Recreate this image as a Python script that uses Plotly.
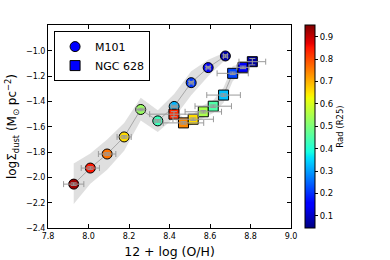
import plotly.graph_objects as go

# ---------------- data ----------------
m101_oh = [7.927, 8.009, 8.092, 8.176, 8.258, 8.342, 8.423, 8.507, 8.591, 8.676]
m101_sd = [-2.053, -1.926, -1.815, -1.680, -1.463, -1.553, -1.439, -1.251, -1.132, -1.040]
m101_rad = [0.93, 0.85, 0.76, 0.66, 0.53, 0.43, 0.32, 0.21, 0.16, 0.08]
m101_xerr = [0.05, 0.045, 0.043, 0.035, 0.02, 0.015, 0.015, 0.01, 0.01, 0.01]
m101_yerr = [0.01, 0.01, 0.01, 0.01, 0.01, 0.01, 0.01, 0.01, 0.01, 0.01]
m101_band_hi = [-1.89, -1.81, -1.70, -1.57, -1.37, -1.47, -1.34, -1.16, -1.07, -1.01]
m101_band_lo = [-2.21, -2.05, -1.94, -1.79, -1.55, -1.64, -1.53, -1.35, -1.20, -1.07]

ngc_oh = [8.422, 8.469, 8.517, 8.567, 8.616, 8.667, 8.712, 8.763, 8.809]
ngc_sd = [-1.500, -1.569, -1.540, -1.481, -1.437, -1.349, -1.177, -1.130, -1.085]
ngc_rad = [0.83, 0.74, 0.66, 0.55, 0.45, 0.33, 0.22, 0.14, 0.07]
ngc_xerr = [0.12, 0.10, 0.10, 0.09, 0.09, 0.083, 0.077, 0.03, 0.066]
ngc_yerr = [0.02, 0.01, 0.01, 0.01, 0.01, 0.01, 0.01, 0.01, 0.025]
ngc_band_hi = [-1.46, -1.53, -1.50, -1.43, -1.39, -1.29, -1.12, -1.10, -1.06]
ngc_band_lo = [-1.54, -1.61, -1.58, -1.53, -1.49, -1.41, -1.24, -1.16, -1.11]

x_ticks = [7.8, 8.0, 8.2, 8.4, 8.6, 8.8, 9.0]
y_ticks = [-2.4, -2.2, -2.0, -1.8, -1.6, -1.4, -1.2, -1.0]
cb_ticks = [0.1, 0.2, 0.3, 0.4, 0.5, 0.6, 0.7, 0.8, 0.9]
series_names = ["M101", "NGC 628"]

# ---------------- matplotlib-like jet colorscale ----------------
_seg = {
    "r": [(0, 0), (0.35, 0), (0.66, 1), (0.89, 1), (1, 0.5)],
    "g": [(0, 0), (0.125, 0), (0.375, 1), (0.64, 1), (0.91, 0), (1, 0)],
    "b": [(0, 0.5), (0.11, 1), (0.34, 1), (0.65, 0), (1, 0)],
}


def _interp(pts, t):
    for (x0, y0), (x1, y1) in zip(pts[:-1], pts[1:]):
        if x0 <= t <= x1:
            return y0 + (y1 - y0) * (t - x0) / (x1 - x0)
    return pts[-1][1]


_stops = sorted({p[0] for v in _seg.values() for p in v})
jet = []
for s in _stops:
    r, g, b = (int(round(255 * _interp(_seg[c], s))) for c in "rgb")
    jet.append([s, f"rgb({r},{g},{b})"])

FONT = "DejaVu Sans"
band_fill = "rgba(185,185,185,0.45)"
line_col = "#a8a8a8"
err_col = "#9a9a9a"

fig = go.Figure()

# bands
for oh, hi, lo in [(m101_oh, m101_band_hi, m101_band_lo), (ngc_oh, ngc_band_hi, ngc_band_lo)]:
    fig.add_trace(go.Scatter(
        x=oh + oh[::-1], y=hi + lo[::-1], fill="toself", fillcolor=band_fill,
        line=dict(width=0), mode="lines", showlegend=False, hoverinfo="skip"))

# connecting lines
for oh, sd in [(m101_oh, m101_sd), (ngc_oh, ngc_sd)]:
    fig.add_trace(go.Scatter(x=oh, y=sd, mode="lines", line=dict(color=line_col, width=1),
                             showlegend=False, hoverinfo="skip"))

# markers
fig.add_trace(go.Scatter(
    x=m101_oh, y=m101_sd, mode="markers", showlegend=False, name=series_names[0],
    marker=dict(symbol="circle", size=10, color=m101_rad, coloraxis="coloraxis",
                line=dict(color="black", width=1))))
fig.add_trace(go.Scatter(
    x=ngc_oh, y=ngc_sd, mode="markers", showlegend=False, name=series_names[1],
    marker=dict(symbol="square", size=10, color=ngc_rad, coloraxis="coloraxis",
                line=dict(color="black", width=1))))

# error bars (drawn over markers)
for oh, sd, xe, ye in [(m101_oh, m101_sd, m101_xerr, m101_yerr), (ngc_oh, ngc_sd, ngc_xerr, ngc_yerr)]:
    fig.add_trace(go.Scatter(
        x=oh, y=sd, mode="markers", marker=dict(size=1, color="rgba(0,0,0,0)"),
        error_x=dict(type="data", array=xe, color=err_col, thickness=1, width=3),
        error_y=dict(type="data", array=ye, color=err_col, thickness=1, width=3),
        showlegend=False, hoverinfo="skip"))

# legend entries
fig.add_trace(go.Scatter(x=[None], y=[None], mode="markers", name=series_names[0],
                         marker=dict(symbol="circle", size=10, color="#0000ff",
                                     line=dict(color="black", width=1))))
fig.add_trace(go.Scatter(x=[None], y=[None], mode="markers", name=series_names[1],
                         marker=dict(symbol="square", size=10, color="#0000ff",
                                     line=dict(color="black", width=1))))

axis_common = dict(showline=True, linecolor="black", linewidth=1, mirror="ticks",
                   ticks="inside", ticklen=4, tickcolor="black", showgrid=False,
                   zeroline=False, automargin=False,
                   tickfont=dict(size=8, color="black", family=FONT))

fig.update_layout(
    width=390, height=260,
    margin=dict(l=48, r=99, t=25, b=32, autoexpand=False),
    paper_bgcolor="white", plot_bgcolor="white",
    font=dict(family=FONT, color="black"),
    xaxis=dict(range=[7.8, 9.0], tickvals=x_ticks, ticktext=[f"{v:.1f}" for v in x_ticks],
               title=dict(text="12 + log (O/H)", font=dict(size=12.5), standoff=7),
               **axis_common),
    yaxis=dict(range=[-2.4, -0.795], tickvals=y_ticks,
               ticktext=[f"{v:.1f}".replace("-", "\u2212") for v in y_ticks],
               title=dict(text="logΣ<sub>dust</sub> (M<sub>⊙</sub> pc<sup>\u22122</sup>)",
                          font=dict(size=12), standoff=6),
               **axis_common),
    coloraxis=dict(colorscale=jet, cmin=0.046, cmax=0.952,
                   colorbar=dict(thickness=10, len=1, lenmode="fraction", x=1.058,
                                 xanchor="left", xpad=0, ypad=0, y=0.5, yanchor="middle",
                                 outlinewidth=1, outlinecolor="black",
                                 tickvals=cb_ticks, ticktext=[f"{v:.1f}" for v in cb_ticks],
                                 ticks="outside", ticklen=3, tickcolor="black",
                                 tickfont=dict(size=8.5, family=FONT),
                                 title=dict(text="Rad (R25)", side="right",
                                            font=dict(size=8.5, family=FONT)))),
    legend=dict(x=0.025, y=0.97, xanchor="left", yanchor="top", bgcolor="white",
                bordercolor="black", borderwidth=1, font=dict(size=11, family=FONT),
                itemwidth=30, tracegroupgap=0),
    showlegend=True,
)

fig.write_html("out.html", config={"displayModeBar": False},
               post_script="document.body.style.margin='0px';")
